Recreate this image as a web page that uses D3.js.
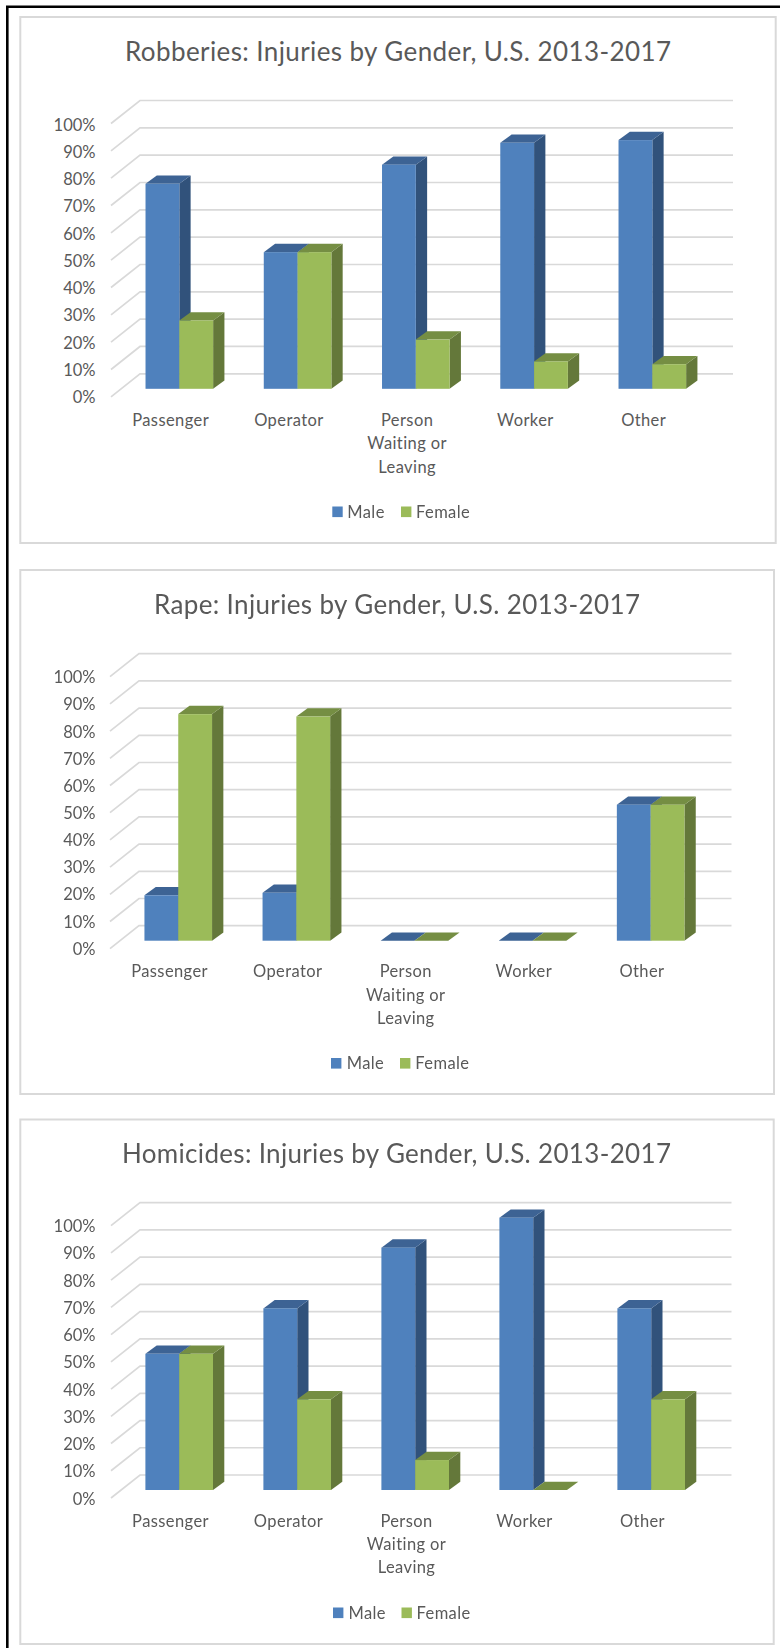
<!DOCTYPE html>
<html>
<head>
<meta charset="utf-8">
<script src="https://cdn.jsdelivr.net/npm/d3@7"></script>
<style>
  html, body { margin: 0; padding: 0; background: #fff; }
  svg { display: block; filter: blur(0.35px); }
  text { font-family: Lato, "Open Sans", sans-serif; fill: #595959; }
</style>
</head>
<body>
<svg id="chart" width="780" height="1648"></svg>
<script>
const categories = ['Passenger', 'Operator', 'Person\nWaiting or\nLeaving', 'Worker', 'Other'];
const seriesNames = ['Male', 'Female'];
const percentTicks = [0, 10, 20, 30, 40, 50, 60, 70, 80, 90, 100];

const robberiesMale = [75, 50, 82, 90, 91];
const robberiesFemale = [25, 50, 18, 10, 9];
const rapeMale = [16.7, 17.6, 0, 0, 50];
const rapeFemale = [83.3, 82.4, 0, 0, 50];
const homicidesMale = [50, 66.7, 89, 100, 66.7];
const homicidesFemale = [50, 33.3, 11, 0, 33.3];

const titles = [
  'Robberies: Injuries by Gender, U.S. 2013-2017',
  'Rape: Injuries by Gender, U.S. 2013-2017',
  'Homicides: Injuries by Gender, U.S. 2013-2017',
];

// layout of the three boxes
const panels = [
  { title: titles[0], male: robberiesMale, female: robberiesFemale,
    box: [20.3, 17, 775.7, 543], titleX: [125, 671], titleY: 61,
    wallTop: 100.5, wallBottom: 373.8, tickTop: 130, tickBottom: 402.7,
    floorLeft: 112, step: 118.25, gridEnd: 733, labelY: 426,
    legendY: 517.5, legendX: [332.3, 347.3, 401, 416] },
  { title: titles[1], male: rapeMale, female: rapeFemale,
    box: [20.3, 570, 774, 1094], titleX: [154, 640], titleY: 614,
    wallTop: 653.7, wallBottom: 925.7, tickTop: 682.7, tickBottom: 954.3,
    floorLeft: 111, step: 118.1, gridEnd: 731.5, labelY: 977.3,
    legendY: 1069, legendX: [331, 346.7, 400, 415.3] },
  { title: titles[2], male: homicidesMale, female: homicidesFemale,
    box: [20.3, 1119.5, 773.7, 1644], titleX: [122, 671], titleY: 1162.7,
    wallTop: 1202.7, wallBottom: 1475, tickTop: 1231.7, tickBottom: 1504,
    floorLeft: 112, step: 118, gridEnd: 731.5, labelY: 1526.7,
    legendY: 1618.5, legendX: [333, 348.5, 401.5, 416.5] },
];

const colors = {
  Male: { front: '#4f81bd', top: '#3d6394', side: '#31527b' },
  Female: { front: '#9bbb59', top: '#758e43', side: '#64783a' },
};

const floorDepth = { x: 29, y: 23 }; // front edge of the floor to the back wall
const barDepth = { x: 11.3, y: 8.3 };
const barBaseShift = { x: 8.2, y: 15 }; // bars stand mid-way on the floor
const barWidth = 33.8;

const svg = d3.select('#chart');

// black rule round the pasted screenshot
svg.append('path')
  .attr('d', d3.line()([[7.3, 1648], [7.3, 6.7], [780, 6.7]]))
  .attr('fill', 'none')
  .attr('stroke', '#000')
  .attr('stroke-width', 2.6);

panels.forEach(drawPanel);

function drawPanel(p) {
  const g = svg.append('g');

  g.append('rect')
    .attr('x', p.box[0])
    .attr('y', p.box[1])
    .attr('width', p.box[2] - p.box[0])
    .attr('height', p.box[3] - p.box[1])
    .attr('fill', '#fff')
    .attr('stroke', '#d9d9d9')
    .attr('stroke-width', 2);

  g.append('text')
    .attr('x', p.titleX[0])
    .attr('y', p.titleY)
    .attr('textLength', p.titleX[1] - p.titleX[0])
    .attr('lengthAdjust', 'spacing')
    .style('font-size', '26px')
    .text(p.title);

  const y = d3.scaleLinear().domain([0, 100]).range([p.wallBottom, p.wallTop]);
  const tickY = d3.scaleLinear().domain([0, 100]).range([p.tickBottom, p.tickTop]);
  const x = d3.scaleBand()
    .domain(categories)
    .range([p.floorLeft, p.floorLeft + p.step * categories.length]);

  // wall lines with their slanted floor/side part
  g.append('g')
    .selectAll('path')
    .data(percentTicks)
    .join('path')
    .attr('d', d =>
      d3.line()([
        [p.floorLeft - 1, y(d) + floorDepth.y],
        [p.floorLeft - 1 + floorDepth.x, y(d)],
        [p.gridEnd, y(d)],
      ])
    )
    .attr('fill', 'none')
    .attr('stroke', '#d9d9d9')
    .attr('stroke-width', 1.7);

  const yAxis = d3.axisLeft(tickY)
    .tickValues(percentTicks)
    .tickFormat(d => `${d}%`)
    .tickSize(0)
    .tickPadding(0);
  const yAxisG = g.append('g')
    .attr('transform', 'translate(95.5,0)')
    .call(yAxis);
  yAxisG.select('.domain').remove();
  yAxisG.selectAll('text')
    .attr('dy', 0)
    .style('font-size', '16.5px')
    .style('font-family', null);

  const series = d3.scaleBand()
    .domain(seriesNames)
    .range([0, barWidth * 2]);

  seriesNames.forEach(name => {
    const values = name === 'Male' ? p.male : p.female;
    const c = colors[name];
    const rows = categories.map((cat, i) => ({ cat, v: values[i] }));
    const left = d =>
      x(d.cat) + (x.bandwidth() - barWidth * 2) / 2 + series(name) + barBaseShift.x;
    const right = d => left(d) + series.bandwidth();
    const top = d => y(d.v) + barBaseShift.y;
    const base = y(0) + barBaseShift.y;
    const bars = g.append('g').selectAll('g').data(rows).join('g');

    bars.filter(d => d.v > 0).append('path')
      .attr('d', d =>
        d3.line()([
          [right(d), top(d)],
          [right(d) + barDepth.x, top(d) - barDepth.y],
          [right(d) + barDepth.x, base - barDepth.y],
          [right(d), base],
        ])
      )
      .attr('fill', c.side);

    bars.append('path')
      .attr('d', d =>
        d3.line()([
          [left(d), top(d)],
          [left(d) + barDepth.x, top(d) - barDepth.y],
          [right(d) + barDepth.x, top(d) - barDepth.y],
          [right(d), top(d)],
        ])
      )
      .attr('fill', c.top);

    bars.filter(d => d.v > 0).append('rect')
      .attr('x', left)
      .attr('y', top)
      .attr('width', series.bandwidth())
      .attr('height', d => base - top(d))
      .attr('fill', c.front);
  });

  const xAxis = d3.axisBottom(x).tickSize(0).tickPadding(0).tickFormat('');
  const xAxisG = g.append('g')
    .attr('transform', `translate(-0.5,${p.labelY})`)
    .call(xAxis);
  xAxisG.select('.domain').remove();
  xAxisG.selectAll('.tick').each(function (d) {
    const label = d3.select(this).select('text')
      .attr('y', 0)
      .attr('dy', null)
      .style('font-size', '16.5px')
      .style('font-family', null)
      .style('letter-spacing', '0.4px');
    d.split('\n').forEach((line, i) => {
      label.append('tspan')
        .attr('x', 0)
        .attr('y', i * 23.3)
        .text(line);
    });
  });

  // legend
  const legend = g.append('g');
  seriesNames.forEach((name, i) => {
    legend.append('rect')
      .attr('x', p.legendX[i * 2])
      .attr('y', p.legendY - 11)
      .attr('width', 10.4)
      .attr('height', 10.6)
      .attr('fill', colors[name].front);
    legend.append('text')
      .attr('x', p.legendX[i * 2 + 1])
      .attr('y', p.legendY)
      .style('font-size', '16.5px')
      .style('letter-spacing', '0.4px')
      .text(name);
  });
}
</script>
</body>
</html>
